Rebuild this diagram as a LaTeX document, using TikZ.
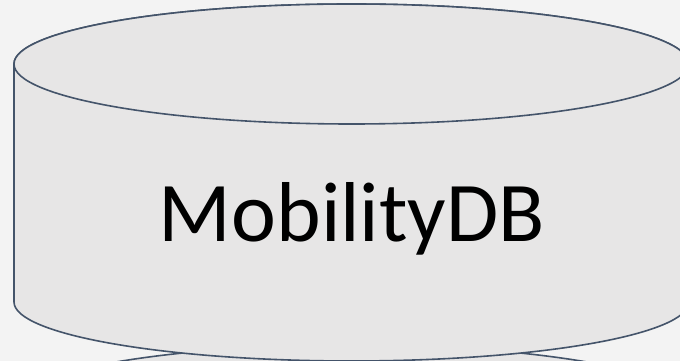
\documentclass[tikz,border=0pt]{standalone}
\usepackage{fontspec}
\setmainfont{Carlito}
\usepackage{tikz}
\definecolor{bgcol}{HTML}{F3F3F3}
\definecolor{dbfill}{HTML}{E7E6E6}
\definecolor{dbline}{HTML}{44546A}

\begin{document}
\begin{tikzpicture}[
        x=1pt, y=1pt,
        drum/.style={
            fill=dbfill,
            draw=dbline,
            line width=1.6pt
        },
        dbname/.style={
            font=\fontsize{85}{100}\selectfont,
            text=black,
            anchor=base
        }
    ]

    % Background and frame
    \useasboundingbox (0,0) rectangle (680,361);
    \fill[bgcol] (0,0) rectangle (680,361);
    \clip (0,0) rectangle (680,361);

    % Second drum below (only its top shows)
    \path[drum] (351.5,-44) ellipse [x radius=337.5, y radius=60];

    % MobilityDB drum
    \path[drum] (14,297) -- (14,59)
        arc[start angle=180, end angle=360, x radius=337.5, y radius=59]
        -- (689,297)
        arc[start angle=0, end angle=180, x radius=337.5, y radius=60]
        -- cycle;
    \path[drum] (351.5,297) ellipse [x radius=337.5, y radius=60];

    % Name
    \node[dbname] (mobility) at (352,119) {MobilityDB};

\end{tikzpicture}
\end{document}
